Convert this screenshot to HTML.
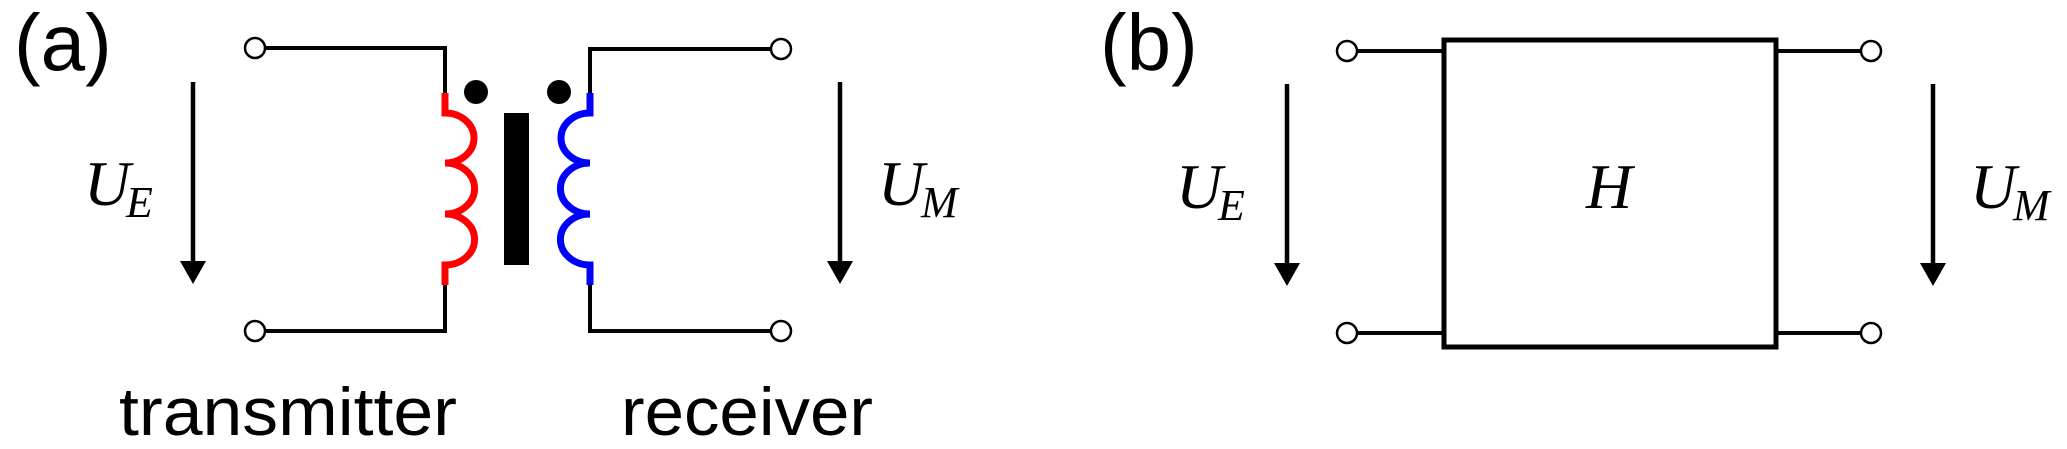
<!DOCTYPE html>
<html><head><meta charset="utf-8"><style>html,body{margin:0;padding:0;background:#fff}svg{display:block}</style></head>
<body>
<svg width="2067" height="449" viewBox="0 0 2067 449" xmlns="http://www.w3.org/2000/svg">
<g font-family="Liberation Sans, sans-serif" fill="#000">
<text x="14" y="70" font-size="80">(a)</text>
<text x="1100" y="70" font-size="80">(b)</text>
<text x="119" y="435" font-size="68" textLength="338" lengthAdjust="spacingAndGlyphs">transmitter</text>
<text x="621" y="435" font-size="68" textLength="252" lengthAdjust="spacingAndGlyphs">receiver</text>
</g>
<g font-family="Liberation Serif, serif" font-style="italic" fill="#000">
<text x="84" y="205" font-size="64">U</text><text x="126" y="217" font-size="44">E</text>
<text x="878" y="205" font-size="64">U</text><text x="921" y="217" font-size="44">M</text>
<text x="1176" y="208" font-size="64">U</text><text x="1218" y="220" font-size="44">E</text>
<text x="1970" y="208" font-size="64">U</text><text x="2013" y="220" font-size="44">M</text>
<text x="1586" y="208" font-size="64">H</text>
</g>
<g stroke="#000" stroke-width="4" fill="none">
<polyline points="264,48 445,48 445,93"/>
<polyline points="264,331 445,331 445,285"/>
<polyline points="590,93 590,49 771,49"/>
<polyline points="590,285 590,331 771,331"/>
<line x1="1357" y1="51" x2="1442" y2="51"/>
<line x1="1357" y1="333" x2="1442" y2="333"/>
<line x1="1776" y1="51" x2="1861" y2="51"/>
<line x1="1776" y1="333" x2="1861" y2="333"/>
<rect x="1444" y="40" width="332" height="307" stroke-width="5"/>
</g>
<g stroke="#000" stroke-width="4.5">
<line x1="193" y1="82" x2="193" y2="265"/>
<line x1="840" y1="82" x2="840" y2="265"/>
<line x1="1287" y1="84" x2="1287" y2="267"/>
<line x1="1933" y1="84" x2="1933" y2="267"/>
</g>
<g fill="#000">
<polygon points="180,261 206,261 193,284"/>
<polygon points="827,261 853,261 840,284"/>
<polygon points="1274,263 1300,263 1287,286"/>
<polygon points="1920,263 1946,263 1933,286"/>
<circle cx="476" cy="92" r="12"/>
<circle cx="559" cy="92" r="12"/>
<rect x="504" y="113" width="25" height="152"/>
</g>
<path d="M445,93 V113 A29,25 0 0 1 445,163 A29,25 0 0 1 445,214 A29,25 0 0 1 445,265 V285" stroke="#f00" stroke-width="7" fill="none"/>
<path d="M590,93 V113 A29,25 0 0 0 590,163 A29,25 0 0 0 590,214 A29,25 0 0 0 590,265 V285" stroke="#00f" stroke-width="7" fill="none"/>
<g stroke="#000" stroke-width="2.5" fill="#fff">
<circle cx="255" cy="48" r="10"/>
<circle cx="255" cy="331" r="10"/>
<circle cx="781" cy="49" r="10"/>
<circle cx="781" cy="331" r="10"/>
<circle cx="1347" cy="51" r="10"/>
<circle cx="1347" cy="333" r="10"/>
<circle cx="1871" cy="51" r="10"/>
<circle cx="1871" cy="333" r="10"/>
</g>
</svg>
</body></html>
